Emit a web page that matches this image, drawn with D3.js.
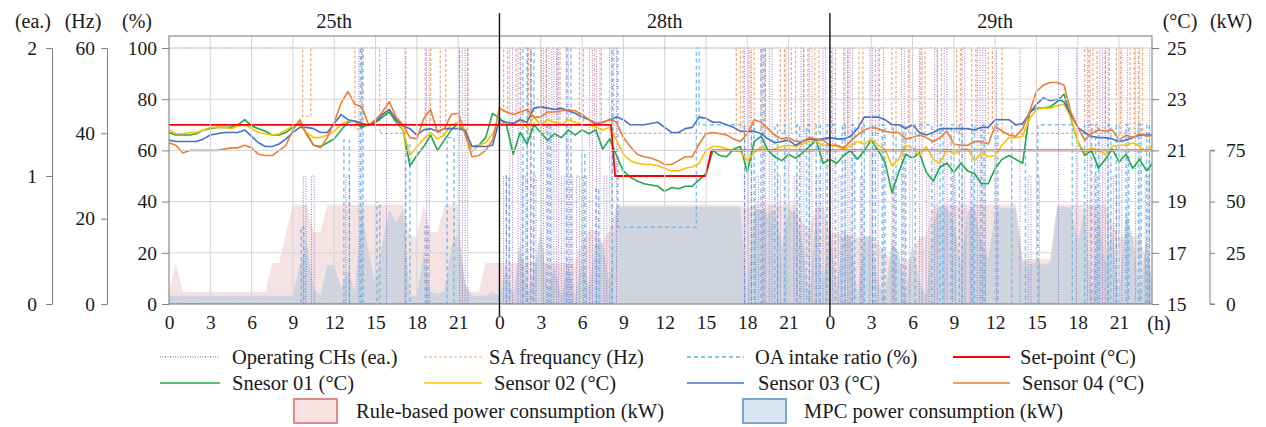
<!DOCTYPE html>
<html>
<head>
<meta charset="UTF-8" />
<title>Sensor and power trends</title>
<script src="https://d3js.org/d3.v7.min.js"></script>
<style>
  body { margin: 0; background: #fff; }
  svg text { font-family: "Liberation Serif", "Times New Roman", serif; fill: #1a1a1a; }
</style>
</head>
<body>
<svg id="chart" width="1266" height="427" font-family="Liberation Serif"></svg>
<script>
// ---- data, half-hour samples over the three days ----
const days = ['25th', '28th', '29th']

const sensor01 = [
  21.7,21.6,21.6,21.6,21.65,21.8,21.85,21.9, 21.9,21.9,22.0,22.2,21.95,21.85,21.75,21.6,
  21.6,21.7,21.9,22.05,21.65,21.2,21.15,21.3, 21.45,21.8,22.1,22.15,21.9,22.0,22.1,22.3,
  22.5,22.1,21.8,20.4,20.8,21.15,21.6,21.0, 21.4,21.8,22.05,21.7,21.15,21.2,21.5,22.45,
  22.25,22.0,20.85,21.7,21.25,22.0,21.7,21.4, 21.65,21.5,21.8,21.6,21.8,21.65,21.8,21.05,
  21.45,20.8,20.2,19.95,19.8,19.7,19.65,19.6, 19.4,19.55,19.5,19.6,19.6,19.85,20.1,21.0,
  20.8,20.75,21.05,21.15,20.15,21.35,21.55,21.0, 20.75,20.6,20.85,20.7,20.9,21.15,21.4,20.5,
  20.65,20.5,20.8,21.0,20.65,21.0,21.4,21.0, 20.55,19.35,20.15,20.85,20.7,20.9,20.15,19.8,
  20.35,20.5,20.15,20.5,20.2,20.1,19.7,19.7, 20.3,20.65,20.8,20.65,20.5,22.5,22.65,22.65,
  22.7,22.9,23.2,22.25,21.35,20.8,21.0,20.3, 20.65,21.05,20.55,20.85,20.3,20.65,20.2,20.55
]
const sensor02 = [
  21.8,21.65,21.65,21.7,21.7,21.8,21.9,21.9, 21.9,21.85,21.95,22.0,21.85,21.7,21.65,21.6,
  21.65,21.8,21.95,22.0,21.7,21.5,21.5,21.6, 21.75,22.0,22.15,22.15,22.0,22.0,22.15,22.4,
  22.6,22.2,21.8,20.8,21.15,21.45,21.7,21.45, 21.6,22.0,22.1,21.7,20.95,21.2,21.3,21.65,
  22.05,22.05,22.0,22.2,21.9,22.3,22.0,22.2, 22.1,22.0,22.2,22.1,22.0,22.0,21.9,21.8,
  21.9,21.4,20.85,20.6,20.5,20.45,20.45,20.4, 20.3,20.2,20.2,20.3,20.35,20.5,21.0,21.15,
  21.15,21.05,21.0,20.95,20.6,20.9,21.15,21.0, 21.05,21.15,21.2,21.15,21.25,21.35,21.35,21.2,
  21.2,21.15,21.05,21.15,21.35,21.25,21.45,21.2, 21.05,20.4,20.65,21.2,21.1,20.8,21.15,20.65,
  20.5,21.05,20.85,21.0,21.05,20.6,20.9,20.75, 20.8,21.2,21.5,21.5,21.55,22.25,22.6,22.65,
  22.65,22.75,22.8,22.3,21.35,20.9,21.1,21.0, 20.85,21.15,21.2,21.2,21.3,21.15,20.95,21.25
]
const sensor03 = [
  21.4,21.35,21.35,21.35,21.35,21.45,21.6,21.65, 21.7,21.7,21.7,21.8,21.55,21.3,21.15,21.15,
  21.25,21.45,21.7,21.9,21.9,21.85,21.7,21.7, 22.05,22.4,22.2,22.15,22.05,22.0,22.1,22.4,
  22.6,22.2,21.95,21.85,21.6,21.8,21.85,21.75, 21.85,21.85,21.85,21.8,21.15,21.15,21.15,21.2,
  22.2,22.1,22.05,22.2,22.1,22.65,22.7,22.65, 22.6,22.65,22.55,22.45,22.3,22.2,22.05,22.1,
  22.2,22.3,22.2,22.0,22.0,22.0,22.05,22.1, 21.9,21.7,21.7,21.85,21.9,22.3,22.25,22.1,
  22.1,22.0,21.9,21.75,21.75,21.75,21.65,21.45, 21.3,21.35,21.4,21.2,21.35,21.45,21.4,21.45,
  21.5,21.45,21.45,21.55,21.85,22.3,22.3,22.3, 22.2,22.0,22.0,21.85,22.0,21.7,21.6,21.7,
  21.85,21.85,21.85,21.85,21.85,21.8,21.9,21.9, 22.2,22.2,22.2,22.0,22.05,22.45,22.8,23.05,
  22.95,23.0,22.9,22.4,21.9,21.7,21.55,21.5, 21.5,21.45,21.35,21.4,21.5,21.6,21.6,21.6
]
const sensor04 = [
  21.3,21.2,20.9,21.0,21.0,21.0,21.0,21.0, 21.05,21.1,21.1,21.2,21.1,20.85,20.8,20.8,
  21.0,21.2,21.8,22.2,21.6,21.2,21.1,21.5, 22.1,22.85,23.3,22.8,22.7,22.0,22.2,22.5,
  22.9,22.3,22.0,21.5,21.45,22.25,22.6,21.7, 21.85,22.4,22.45,21.65,20.75,20.8,21.0,21.4,
  22.65,22.5,22.4,22.5,22.6,22.3,22.3,22.5, 22.5,22.55,22.6,22.55,22.4,22.2,22.0,22.1,
  22.2,22.1,21.5,21.15,20.85,20.75,20.7,20.6, 20.45,20.45,20.6,20.75,20.75,21.25,21.65,21.7,
  21.65,21.6,21.45,21.35,21.65,22.2,22.1,21.85, 21.6,21.45,21.5,21.35,21.35,21.5,21.45,21.4,
  21.2,21.2,21.1,21.35,21.6,21.8,21.9,21.85, 21.75,21.7,21.7,21.45,21.5,21.6,21.5,21.35,
  21.5,21.75,21.25,21.2,21.2,21.35,21.35,21.25, 21.95,21.75,21.6,21.55,21.85,22.5,23.3,23.55,
  23.65,23.65,23.55,22.5,21.9,21.4,21.65,21.8, 21.75,21.8,21.4,21.6,21.5,21.65,21.55,21.6
]
// kW
const ruleBasedKw = [
  6,20,6,6,6,6,6,6, 6,6,6,6,6,6,6,20, 20,35,48.5,48.5,48.5,35,35,48.5,
  48.5,48.5,48.5,48.5,48.5,48.5,48.5,48.5, 48.5,48.5,48.5,33,33,48.5,35,35, 48.5,48.5,48.5,6,6,6,20,20,
  20,20,20,20,20,20,20,20, 20,20,20,20,30,36,36,30, 36,48.5,48.5,48.5,48.5,48.5,48.5,48.5,
  48.5,48.5,48.5,48.5,48.5,48.5,48.5,48.5, 48.5,48.5,48.5,48.5,47,48.5,48.5,48.5, 48.5,48.5,48.5,48.5,40,35,48,48,
  35,35,33,33,33,33,33,30, 25,22,20,20,25,33,33,48.5, 48.5,48.5,48.5,48.5,48.5,48.5,48.5,48.5,
  48.5,48.5,48.5,48.5,22,22,22,22, 22,48.5,48.5,48.5,48.5,48.5,48.5,48.5, 48.5,40,33,33,33,33,20,5
]
const mpcKw = [
  4,4,4,4,4,4,4,4, 4,4,4,4,4,4,4,4, 4,4,4,19,30,8,4,19,
  19,8,17,6,46,25,10,30, 46,40,46,4,4,25,6,5, 6,28,35,10,4,4,4,6,
  4,17,4,30,4,15,37,6, 18,4,19,4,22,8,30,29, 10,47.5,47.5,47.5,47.5,47.5,47.5,47.5,
  47.5,47.5,47.5,47.5,47.5,47.5,47.5,47.5, 47.5,47.5,47.5,47,4,46,46,44, 46,28,46,45,30,4,44,10,
  37,8,35,33,5,33,33,10, 4,30,25,4,30,10,4,40, 47.5,47,40,20,45,47,30,22,
  45,47,47,47,20,19,21,19, 20,47,47.5,47,30,47,4,45, 20,35,4,45,32,4,33,4
]
// set-point (°C) as [hour, value]
const setPoint = [[0, 22], [32.1, 22], [32.4, 20], [38.97, 20], [39.4, 21], [71.4, 21]]
// step series as [hour, value] change points
const chillers = [
  [0,0],[9.75,1],[9.95,0],[10.35,1],[10.55,0],[12.85,1],[13.1,0],[13.8,2],[14,0],[15.8,2],[17.15,0],[18.7,2],[18.9,0],[21.1,2],[21.3,0],[21.5,2],[21.7,0],
  [24.3,1],[24.5,0],[24.75,2],[24.95,0],[25.35,2],[25.55,0],[25.7,1],[25.9,0],[26.05,2],[26.25,0],[26.45,1],[26.65,0],[27.05,2],[27.2,0],[27.4,2],[27.6,0],
  [27.8,2],[27.95,0],[28.15,2],[28.3,0],[28.5,1],[28.7,0],[28.85,2],[29,0],[29.1,1],[29.3,0],[29.6,1],[29.8,0],[30.1,1],[30.3,0],[30.55,2],[30.75,0],
  [31.05,2],[31.3,0],[31.6,1],[31.8,0],[32,2],[32.15,0],[32.5,2],[41.8,0],
  [42.1,2],[42.3,0],[42.6,1],[42.8,0],[43.1,2],[43.3,0],[43.6,2],[43.8,0],[44.2,1],[44.4,0],[44.8,2],[45,0],[45.4,1],[45.6,0],[45.9,2],[46.1,0],
  [46.5,2],[46.7,0],[47,1],[47.2,0],[47.5,2],[47.7,0],
  [48,2],[48.2,0],[48.6,1],[48.8,0],[49.1,2],[49.3,0],[49.45,2],[49.65,0],[50.2,1],[50.4,0],[50.9,2],[51.1,0],[51.5,2],[51.9,0],[52.5,1],[52.7,0],
  [53.2,2],[53.4,0],[53.8,2],[54,0],[54.5,2],[54.7,0],[55,1],[55.2,0],[55.6,2],[55.8,0],[56.3,2],[56.5,0],[56.9,1],[57.1,0],[57.6,2],[57.8,0],
  [58.2,1],[58.4,0],[58.7,2],[58.9,0],[59.1,2],[59.3,0],[60.1,2],[61.8,0],[62.4,1],[62.6,0],[63,1],[63.2,0],[64.6,2],[65.9,0],[66.7,2],[66.9,0],
  [67.2,1],[67.4,0],[67.6,2],[67.8,0],[68,2],[68.2,0],[68.6,1],[68.8,0],[69.2,2],[69.6,0],[70.2,2],[70.5,0],[70.9,1],[71.1,0],[71.2,2]
]
const saFrequency = [
  [0,60],[9.7,44],[10.3,60],[13.5,41],[14,60],[15.3,40],[17.2,60],[18.6,41],[19,60],[19.7,40],[20.1,60],[21.1,41],[21.7,60],
  [24.3,45],[24.6,60],[25.2,42],[25.5,60],[26.1,40],[26.3,60],[27,40],[27.4,60],[28.2,42],[28.4,60],[29.8,42],[30.1,60],[30.9,40],[31.4,60],
  [32.3,40],[41.2,60],[41.5,40],[41.7,60],
  [42.2,40],[42.5,60],[43,40],[43.3,60],[44.4,40],[44.7,60],[45.2,40],[45.5,60],[46.1,40],[46.4,60],[46.9,40],[47.2,60],
  [48.1,40],[48.4,60],[49,40],[49.3,60],[50.1,40],[50.4,60],[51.3,40],[51.6,60],[52.5,40],[52.8,60],[53.7,40],[54,60],[54.6,40],[54.9,60],
  [55.8,40],[56.1,60],[57.2,40],[57.5,60],[58.3,40],[58.6,60],[59.5,40],[59.8,60],[60.5,40],[66.5,60],[66.8,40],[67.1,60],[67.4,40],[68,60],
  [68.3,40],[68.8,60],[69.1,40],[69.8,60],[70.1,40],[70.4,60],[70.7,40]
]
const oaRatio = [
  [0,0],[9.6,30],[9.8,0],[12.7,64],[13.1,0],[13.9,100],[14.1,0],[15.1,40],[15.3,0],[17.2,62],[17.5,0],[18.6,30],[18.8,0],[20.2,65],[20.7,0],
  [24.5,50],[24.7,0],[25.7,100],[26,0],[26.3,100],[26.5,0],[27.5,70],[27.7,0],[28.9,100],[29.2,0],[30,60],[30.2,0],[31,45],[31.2,0],
  [32.2,100],[32.6,30],[38.3,100],[38.5,70],[41.8,0],[42.3,70],[42.5,0],[43,100],[43.2,0],[44,70],[44.2,0],[44.7,70],[45,0],[45.6,70],[45.8,0],
  [46.3,70],[46.5,0],[47,70],[47.3,0],[47.8,70],
  [48.4,0],[48.9,70],[49.1,0],[49.6,70],[49.8,0],[50.3,70],[50.5,0],[51.1,70],[51.3,0],[51.8,70],[52,0],[52.6,70],[52.8,0],[53.3,70],[53.5,0],
  [54.2,70],[55.4,0],[56,70],[56.2,0],[56.8,70],[57,0],[57.4,70],[57.6,0],[58.3,70],[58.5,0],[59,70],[59.2,0],[60,70],[60.2,0],[61.2,70],[62.2,0],
  [63.1,70],[65.6,0],[66.5,70],[67,0],[67.3,70],[67.5,0],[68.2,70],[68.4,0],[68.8,70],[69,0],[69.5,70],[69.7,0],[70.4,70],[70.6,0],[71,70],[71.2,0]
]

// ---- chart ----
const hours = d3.range(0, 72, 0.5)
const svg = d3.select('#chart')
const pLeft = 169, pRight = 1152, pTop = 36, pBottom = 304
const FONT = '"Liberation Serif", "Times New Roman", serif'

const x = d3.scaleLinear().domain([0, 71.5]).range([169, 1153.5])
const yPct = d3.scaleLinear().domain([0, 100]).range([304, 48])
const yTemp = d3.scaleLinear().domain([15, 25]).range([304, 48])
const yEa = d3.scaleLinear().domain([0, 2]).range([304, 48])
const yHz = d3.scaleLinear().domain([0, 60]).range([304, 48])
const yKw = d3.scaleLinear().domain([0, 125]).range([304, 48])

svg.append('defs').append('clipPath').attr('id', 'plotclip')
  .append('rect').attr('x', pLeft).attr('y', pTop).attr('width', pRight - pLeft).attr('height', pBottom - pTop)

const plot = svg.append('g').attr('clip-path', 'url(#plotclip)')

// power areas
const kwArea = d3.area().x((d, i) => x(hours[i])).y0(yKw(0)).y1(d => yKw(d))
plot.append('path').attr('d', kwArea(ruleBasedKw)).attr('fill', '#f3dcdc').attr('opacity', 0.8)
plot.append('path').attr('d', kwArea(mpcKw)).attr('fill', '#c6d0dd').attr('opacity', 0.8)

// grid
const grid = svg.append('g').attr('stroke', '#d4d4d4').attr('stroke-width', 1)
grid.selectAll('line.v').data(d3.range(3, 72, 3)).join('line')
  .attr('x1', d => x(d)).attr('x2', d => x(d)).attr('y1', pTop).attr('y2', pBottom)
grid.selectAll('line.h').data([20, 40, 60, 80, 100]).join('line')
  .attr('x1', pLeft).attr('x2', pRight).attr('y1', d => yPct(d)).attr('y2', d => yPct(d))

// step series
function stepPath(points, scale) {
  const pts = points.concat([[71.5, points[points.length - 1][1]]])
  return d3.line().x(d => x(d[0])).y(d => scale(d[1])).curve(d3.curveStepAfter)(pts)
}
plot.append('path').attr('d', stepPath(saFrequency, yHz)).attr('fill', 'none')
  .attr('stroke', '#f0a97c').attr('stroke-width', 1.2).attr('stroke-dasharray', '3,2')
plot.append('path').attr('d', stepPath(oaRatio, yPct)).attr('fill', 'none')
  .attr('stroke', '#62b5ec').attr('stroke-width', 1.4).attr('stroke-dasharray', '4,3').attr('opacity', 0.85)
plot.append('path').attr('d', stepPath(chillers, yEa)).attr('fill', 'none')
  .attr('stroke', '#7d4bb0').attr('stroke-width', 1).attr('stroke-dasharray', '1,1.5').attr('opacity', 0.75)

// sensors
const tempLine = d3.line().x((d, i) => x(hours[i])).y(d => yTemp(d))
const sensors = [
  {values: sensor01, color: '#22a84c'},
  {values: sensor02, color: '#ffc000'},
  {values: sensor03, color: '#4472c4'},
  {values: sensor04, color: '#ed7d31'}
]
sensors.forEach(s => {
  plot.append('path').attr('d', tempLine(s.values)).attr('fill', 'none')
    .attr('stroke', s.color).attr('stroke-width', 1.6).attr('stroke-linejoin', 'round')
})
plot.append('path').attr('d', d3.line().x(d => x(d[0])).y(d => yTemp(d[1]))(setPoint))
  .attr('fill', 'none').attr('stroke', '#ff0000').attr('stroke-width', 1.8)

// frame
svg.append('rect').attr('x', pLeft).attr('y', pTop).attr('width', pRight - pLeft).attr('height', pBottom - pTop)
  .attr('fill', 'none').attr('stroke', '#8c8c8c').attr('stroke-width', 1.2)

// day separators
svg.selectAll('line.day').data([24, 48]).join('line')
  .attr('x1', d => x(d)).attr('x2', d => x(d)).attr('y1', 13).attr('y2', 316)
  .attr('stroke', '#111').attr('stroke-width', 1.4)

// day labels
svg.selectAll('text.day').data(days).join('text')
  .attr('x', (d, i) => x(i * 24 + 12)).attr('y', 28).attr('text-anchor', 'middle')
  .attr('font-family', FONT).attr('font-size', 20).text(d => d)

// axes
function styleAxis(g) {
  g.attr('font-family', FONT)
  g.selectAll('text').attr('font-size', 19.5).attr('fill', '#1a1a1a').attr('font-family', FONT)
  g.selectAll('line').attr('stroke', '#7f7f7f')
  g.select('.domain').attr('stroke', '#7f7f7f')
}
svg.append('g').attr('transform', `translate(${pLeft},0)`)
  .call(d3.axisLeft(yPct).tickValues([0, 20, 40, 60, 80, 100]).tickSize(7).tickSizeOuter(0).tickPadding(5))
  .call(styleAxis).call(g => g.select('.domain').remove())
svg.append('g').attr('transform', 'translate(107,0)')
  .call(d3.axisLeft(yHz).tickValues([0, 20, 40, 60]).tickSize(6).tickSizeOuter(0).tickPadding(6))
  .call(styleAxis)
svg.append('g').attr('transform', 'translate(52,0)')
  .call(d3.axisLeft(yEa).tickValues([0, 1, 2]).tickFormat(d3.format('d')).tickSize(6).tickSizeOuter(0).tickPadding(9))
  .call(styleAxis)
svg.append('g').attr('transform', `translate(${pRight},0)`)
  .call(d3.axisRight(yTemp).tickValues([15, 17, 19, 21, 23, 25]).tickSize(7).tickSizeOuter(0).tickPadding(8))
  .call(styleAxis).call(g => g.select('.domain').remove())
svg.append('g').attr('transform', 'translate(1210,0)')
  .call(d3.axisRight(yKw).tickValues([0, 25, 50, 75]).tickSize(5).tickSizeOuter(0).tickPadding(11))
  .call(styleAxis).call(g => g.select('.domain').attr('d', `M5,${yKw(75)}H0V${yKw(0)}H5`))

svg.append('g').attr('transform', `translate(0,${pBottom})`)
  .call(d3.axisBottom(x).tickValues(d3.range(0, 72, 3)).tickFormat(d => d % 24).tickSize(0).tickPadding(11))
  .call(styleAxis).call(g => g.select('.domain').remove())
svg.append('text').attr('x', 1159).attr('y', 330).attr('text-anchor', 'middle')
  .attr('font-family', FONT).attr('font-size', 20).text('(h)')

// unit labels
const units = [['(ea.)', 33], ['(Hz)', 83], ['(%)', 137], ['(°C)', 1180], ['(kW)', 1231]]
svg.selectAll('text.unit').data(units).join('text')
  .attr('x', d => d[1]).attr('y', 28).attr('text-anchor', 'middle')
  .attr('font-family', FONT).attr('font-size', 20).text(d => d[0])

// legend
const legendLines = [
  {label: 'Operating CHs (ea.)', color: '#7d4bb0', dash: '1,1.5', w: 1, x1: 160, x2: 220, tx: 232, y: 357},
  {label: 'SA frequancy (Hz)', color: '#f0a97c', dash: '3,2', w: 1.2, x1: 424, x2: 482, tx: 489, y: 357},
  {label: 'OA intake ratio (%)', color: '#62b5ec', dash: '4,3', w: 1.4, x1: 687, x2: 744, tx: 755, y: 357},
  {label: 'Set-point (°C)', color: '#ff0000', dash: null, w: 1.8, x1: 953, x2: 1010, tx: 1020, y: 357},
  {label: 'Snesor 01 (°C)', color: '#22a84c', dash: null, w: 1.6, x1: 160, x2: 220, tx: 232, y: 383},
  {label: 'Sensor 02 (°C)', color: '#ffc000', dash: null, w: 1.6, x1: 424, x2: 482, tx: 494, y: 383},
  {label: 'Sensor 03 (°C)', color: '#4472c4', dash: null, w: 1.6, x1: 687, x2: 744, tx: 758, y: 383},
  {label: 'Sensor 04 (°C)', color: '#ed7d31', dash: null, w: 1.6, x1: 953, x2: 1010, tx: 1022, y: 383}
]
const lg = svg.append('g').attr('font-family', FONT)
legendLines.forEach(d => {
  lg.append('line').attr('x1', d.x1).attr('x2', d.x2).attr('y1', d.y).attr('y2', d.y)
    .attr('stroke', d.color).attr('stroke-width', d.w).attr('stroke-dasharray', d.dash)
  lg.append('text').attr('x', d.tx).attr('y', d.y).attr('dy', '0.35em').attr('font-size', 20.5).text(d.label)
})
const legendBoxes = [
  {label: 'Rule-based power consumption (kW)', fill: '#f8e2e2', stroke: '#de8a8a', x: 294, tx: 356},
  {label: 'MPC power consumption (kW)', fill: '#dae8f4', stroke: '#7ea6d3', x: 743, tx: 804}
]
legendBoxes.forEach(d => {
  lg.append('rect').attr('x', d.x).attr('y', 399).attr('width', 43).attr('height', 24)
    .attr('fill', d.fill).attr('stroke', d.stroke).attr('stroke-width', 2)
  lg.append('text').attr('x', d.tx).attr('y', 411).attr('dy', '0.35em').attr('font-size', 20.5).text(d.label)
})
</script>
</body>
</html>
